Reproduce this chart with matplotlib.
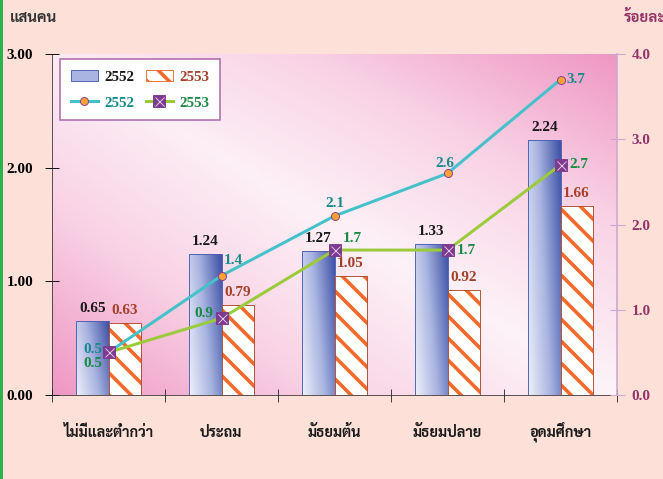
import numpy as np
import matplotlib
matplotlib.use("Agg")
import matplotlib.pyplot as plt
from matplotlib.colors import LinearSegmentedColormap
from matplotlib.patches import Patch, Rectangle
from matplotlib.lines import Line2D
from matplotlib.legend_handler import HandlerTuple

# data
categories = ["ไม่มีและต่ำกว่า", "ประถม", "มัธยมต้น", "มัธยมปลาย", "อุดมศึกษา"]
people_2552 = [0.65, 1.24, 1.27, 1.33, 2.24]   # แสนคน
people_2553 = [0.63, 0.79, 1.05, 0.92, 1.66]
pct_2552 = [0.5, 1.4, 2.1, 2.6, 3.7]            # ร้อยละ
pct_2553 = [0.5, 0.9, 1.7, 1.7, 2.7]
left_ticks = [0, 1, 2, 3]
left_ticklabels = ["0.00", "1.00", "2.00", "3.00"]
right_ticks = [0, 1, 2, 3, 4]
right_ticklabels = ["0.0", "1.0", "2.0", "3.0", "4.0"]
series_names = ["2552", "2553"]

DPI = 66
def px(v):
    return v * 72 / DPI

plt.rcParams["hatch.linewidth"] = px(3.6)
NUM = dict(family="Liberation Serif", weight="bold", size=px(15.2))
THAI = dict(family="Sarabun", weight="bold")

fig = plt.figure(figsize=(663 / DPI, 479 / DPI), dpi=DPI)
fig.patch.set_facecolor("#FDE1D9")
ax = fig.add_axes([52 / 663, 1 - 395 / 479, 565 / 663, 341 / 479])

x = np.arange(len(categories)) + 0.5
w = 0.285

# pink diagonal background
U, V = np.meshgrid(np.linspace(0, 1, 200), np.linspace(0, 1, 200))
T = np.abs(U + V - 1) + 0.12 * (1 - U) * V
bg_cmap = LinearSegmentedColormap.from_list("bg", ["#FDF3F8", "#F9D3E5", "#EF97C4"])
ax.imshow(T, extent=(0, 5, 0, 3), origin="lower", aspect="auto", cmap=bg_cmap,
          zorder=0, interpolation="bilinear", vmin=0, vmax=1)

# 2552 bars with blue gradient
bars1 = ax.bar(x - w / 2, people_2552, w, facecolor="none", edgecolor="#4A5DB3",
               lw=1, zorder=3)
bx, by = np.meshgrid(np.linspace(0, 1, 60), np.linspace(0, 1, 60))
bar_cmap = LinearSegmentedColormap.from_list("blu", ["#EEF1FA", "#A9B4E0", "#4154A8"])
for p in bars1:
    im = ax.imshow(0.72 * bx + 0.3 * by, origin="lower", aspect="auto", cmap=bar_cmap,
                   vmin=0, vmax=1, zorder=2, interpolation="bilinear",
                   extent=(p.get_x(), p.get_x() + p.get_width(), 0, p.get_height()))
    im.set_clip_path(p)

# 2553 bars hatched orange
ax.bar(x + w / 2, people_2553, w, facecolor="white", edgecolor="#F26A2B",
       hatch="\\", lw=0, zorder=3)
ax.bar(x + w / 2, people_2553, w, fill=False, edgecolor="#B04A2C", lw=1, zorder=4)

for xi, v in zip(x, people_2552):
    ax.annotate(f"{v:.2f}", (xi - w / 2, v), xytext=(0, 6), textcoords="offset pixels",
                ha="center", va="bottom", color="#1A1A1A", **NUM)
for xi, v in zip(x, people_2553):
    ax.annotate(f"{v:.2f}", (xi + w / 2, v), xytext=(0, 6), textcoords="offset pixels",
                ha="center", va="bottom", color="#A5402A", **NUM)

ax.set_xlim(0, 5)
ax.set_ylim(0, 3)
ax.set_yticks(left_ticks)
ax.set_yticklabels(left_ticklabels, color="black", **NUM)
ax.tick_params(axis="y", direction="inout", length=px(14), width=1, pad=px(12))
ax.set_xticks(np.arange(6))
ax.set_xticklabels([])
ax.set_xticks(x, minor=True)
ax.set_xticklabels(categories, minor=True, size=px(14.5), color="#1A1A1A",
                   va="baseline", **THAI)
ax.tick_params(axis="x", which="major", direction="inout", length=px(13), width=1,
               color="#333333")
ax.tick_params(axis="x", which="minor", length=0, pad=px(42))
for s in ["top", "right"]:
    ax.spines[s].set_visible(False)
ax.spines["left"].set_color("#222222")
ax.spines["bottom"].set_color("#222222")

# percentage lines on right axis
ax2 = ax.twinx()
ax2.set_ylim(0, 4)
ax2.plot(x, pct_2552, color="#45C1C9", lw=px(3), marker="o", ms=px(8),
         mfc="#F9A133", mec="#8A3B8F", mew=1, zorder=5)
ax2.plot(x, pct_2553, color="#9BCB3B", lw=px(3), marker="s", ms=px(12),
         mfc="#7D3A8E", mec="#7D3A8E", zorder=6)
ax2.plot(x, pct_2553, ls="none", marker="x", ms=px(9), mec="#E2CBEA", mew=1, zorder=7)

off_2552 = [(-6, 3, "right"), (2, 15, "left"), (0, 12, "center"), (-3, 10, "center"), (6, 0, "left")]
off_2553 = [(-6, -11, "right"), (-8, 5, "right"), (8, 12, "left"), (9, 0, "left"), (9, 0, "left")]
for xi, v, (dx, dy, ha) in zip(x, pct_2552, off_2552):
    ax2.annotate(f"{v:.1f}", (xi, v), xytext=(dx, dy), textcoords="offset pixels",
                 ha=ha, va="center", color="#178B8B", zorder=8, **NUM)
for xi, v, (dx, dy, ha) in zip(x, pct_2553, off_2553):
    ax2.annotate(f"{v:.1f}", (xi, v), xytext=(dx, dy), textcoords="offset pixels",
                 ha=ha, va="center", color="#1B8A45", zorder=8, **NUM)

ax2.set_yticks(right_ticks)
ax2.set_yticklabels(right_ticklabels, color="#943468", **NUM)
ax2.tick_params(axis="y", direction="inout", length=px(15), width=1.2,
                color="#C9A8D4", pad=px(7))
for s in ["top", "left", "bottom"]:
    ax2.spines[s].set_visible(False)
ax2.spines["right"].set_color("#C9A8D4")
ax2.spines["right"].set_linewidth(px(1.6))

# legend
h_bar1 = Patch(facecolor="#A9B4E2", edgecolor="#4A5DB3")
h_bar2 = Patch(facecolor="white", edgecolor="#F26A2B", hatch="\\")
h_ln1 = Line2D([], [], color="#45C1C9", lw=px(3), marker="o", ms=px(8),
               mfc="#F9A133", mec="#8A3B8F", mew=1)
h_ln2a = Line2D([], [], color="#9BCB3B", lw=px(3), marker="s", ms=px(12),
                mfc="#7D3A8E", mec="#7D3A8E")
h_ln2b = Line2D([], [], ls="none", marker="x", ms=px(9), mec="#E2CBEA", mew=1)
leg = ax2.legend([h_bar1, h_ln1, h_bar2, (h_ln2a, h_ln2b)],
                 [series_names[0], series_names[0], series_names[1], series_names[1]],
                 handler_map={tuple: HandlerTuple(ndivide=1)},
                 ncol=2, loc="upper left", bbox_to_anchor=(60 / 663, 1 - 59 / 479),
                 bbox_transform=fig.transFigure, borderaxespad=0, fancybox=False,
                 framealpha=1, prop=dict(family="Liberation Serif", weight="bold", size=px(15)),
                 handlelength=1.8, handleheight=0.85, handletextpad=0.45,
                 columnspacing=0.75, labelspacing=0.8, borderpad=0.7)
leg.get_frame().set_edgecolor("#A865A8")
leg.get_frame().set_linewidth(px(1.5))
for t, c in zip(leg.get_texts(), ["#1A1A1A", "#178B8B", "#A5402A", "#1B8A45"]):
    t.set_color(c)

# axis titles
fig.text(10 / 663, 1 - 18 / 479, "แสนคน", ha="left", va="center", size=px(15),
         color="#333333", **THAI)
fig.text(624 / 663, 1 - 18 / 479, "ร้อยละ", ha="left", va="center", size=px(15),
         color="#943468", **THAI)

# green border at left edge
fig.add_artist(Rectangle((0, 0), 2.5 / 663, 1, transform=fig.transFigure,
                         color="#2BB24C", lw=0))

fig.savefig("out.png", dpi=DPI, facecolor=fig.get_facecolor())
